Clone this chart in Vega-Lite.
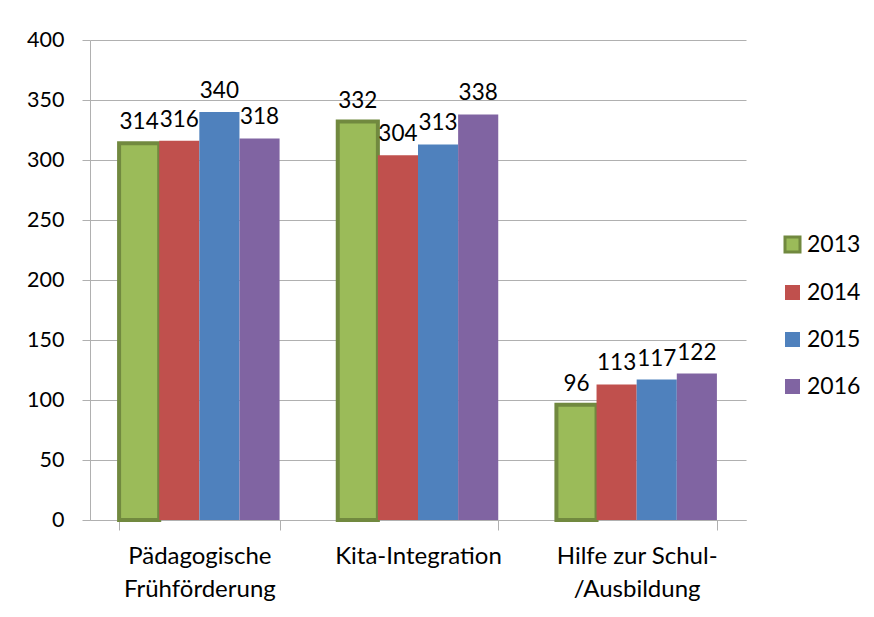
{
  "$schema": "https://vega.github.io/schema/vega-lite/v6.json",
  "autosize": "none",
  "width": 656,
  "height": 480,
  "padding": {"left": 90, "top": 40, "right": 128, "bottom": 97},
  "background": "white",
  "data": {
    "values": [
      {"category": "Pädagogische Frühförderung", "year": "2013", "value": 314},
      {"category": "Pädagogische Frühförderung", "year": "2014", "value": 316},
      {"category": "Pädagogische Frühförderung", "year": "2015", "value": 340},
      {"category": "Pädagogische Frühförderung", "year": "2016", "value": 318},
      {"category": "Kita-Integration", "year": "2013", "value": 332},
      {"category": "Kita-Integration", "year": "2014", "value": 304},
      {"category": "Kita-Integration", "year": "2015", "value": 313},
      {"category": "Kita-Integration", "year": "2016", "value": 338},
      {"category": "Hilfe zur Schul-/Ausbildung", "year": "2013", "value": 96},
      {"category": "Hilfe zur Schul-/Ausbildung", "year": "2014", "value": 113},
      {"category": "Hilfe zur Schul-/Ausbildung", "year": "2015", "value": 117},
      {"category": "Hilfe zur Schul-/Ausbildung", "year": "2016", "value": 122}
    ]
  },
  "config": {
    "font": "Lato",
    "view": {"stroke": null},
    "axis": {"labelFont": "Lato", "labelColor": "black", "labelFontSize": 21}
  },
  "encoding": {
    "x": {
      "field": "category",
      "type": "nominal",
      "sort": null,
      "scale": {"paddingInner": 0.266, "paddingOuter": 0.133},
      "axis": {
        "title": null,
        "labelAngle": 0,
        "tickBand": "extent",
        "domainColor": "#b0b0b0",
        "tickColor": "#b0b0b0",
        "tickSize": 10,
        "labelPadding": 14,
        "labelFontSize": 24,
        "labelBaseline": "top",
        "labelLineHeight": 33,
        "labelExpr": "datum.label == 'Pädagogische Frühförderung' ? ['Pädagogische','Frühförderung'] : datum.label == 'Hilfe zur Schul-/Ausbildung' ? ['Hilfe zur Schul-','/Ausbildung'] : datum.label"
      }
    },
    "xOffset": {"field": "year", "type": "nominal", "sort": null},
    "y": {
      "field": "value",
      "type": "quantitative",
      "scale": {"domain": [0, 400]},
      "axis": {
        "title": null,
        "values": [0, 50, 100, 150, 200, 250, 300, 350, 400],
        "grid": true,
        "gridColor": "#b0b0b0",
        "domainColor": "#b0b0b0",
        "tickColor": "#b0b0b0",
        "tickSize": 8,
        "labelPadding": 18,
        "labelFontSize": 21.5
      }
    }
  },
  "layer": [
    {
      "mark": {"type": "bar"},
      "encoding": {
        "fill": {
          "field": "year",
          "type": "nominal",
          "scale": {"domain": ["2013", "2014", "2015", "2016"], "range": ["#9BBB59", "#C0504D", "#4F81BD", "#8064A2"]},
          "legend": {
            "title": null,
            "orient": "none",
            "legendX": 691,
            "legendY": 193,
            "symbolType": "square",
            "symbolSize": 225,
            "labelFontSize": 23,
            "labelFont": "Lato",
            "labelColor": "black",
            "labelOffset": 3,
            "rowPadding": 23,
            "encode": {"symbols": {"update": {"strokeWidth": {"signal": "datum.label == '2013' ? 3 : 0"}}}}
          }
        },
        "stroke": {
          "field": "year",
          "type": "nominal",
          "scale": {"domain": ["2013", "2014", "2015", "2016"], "range": ["#71893F", "#C0504D", "#4F81BD", "#8064A2"]}
        },
        "strokeWidth": {"condition": {"test": "datum.year == '2013'", "value": 4}, "value": 0}
      }
    },
    {
      "mark": {"type": "text", "baseline": "alphabetic", "dy": -14, "fontSize": 22.5, "font": "Lato", "color": "black"},
      "encoding": {"text": {"field": "value", "type": "quantitative"}}
    }
  ]
}
